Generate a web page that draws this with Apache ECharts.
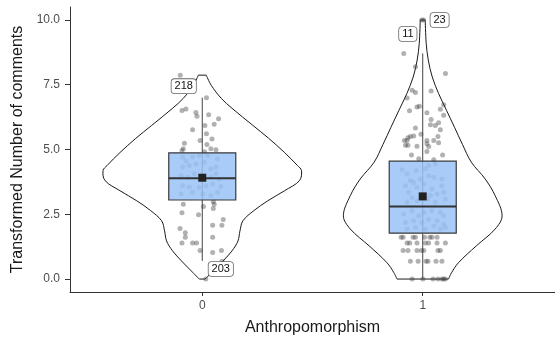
<!DOCTYPE html>
<html>
<head>
<meta charset="utf-8">
<script src="https://cdn.jsdelivr.net/npm/echarts@6/dist/echarts.min.js"></script>
<style>
  html, body { margin: 0; padding: 0; background: #fff; }
  #chart { width: 555px; height: 344px; }
</style>
</head>
<body>
<div id="chart"></div>
<script>
// Groups on the x axis
const categories = ['0', '1'];
const yTicks = [0, 2.5, 5, 7.5, 10];

// Violin outlines: density profile (relative) at each level of the transformed count
const violinLevels0 = [0, 0.31, 0.70, 1.09, 1.47, 1.86, 2.25, 2.64, 3.02, 3.41, 3.80, 4.19, 4.38, 4.88, 5.43, 5.93, 6.59, 6.98, 7.48, 7.87];
const violinDensity0 = [0.03, 0.11, 0.21, 0.30, 0.36, 0.38, 0.41, 0.52, 0.66, 0.83, 0.98, 1.00, 0.96, 0.83, 0.67, 0.51, 0.30, 0.19, 0.09, 0.04];
const violinLevels1 = [0, 0.24, 0.63, 1.28, 1.93, 2.44, 3.22, 3.86, 4.51, 5.20, 5.86, 6.51, 7.16, 7.80, 8.45, 9.10, 10.0];
const violinDensity1 = [0.26, 0.29, 0.36, 0.54, 0.73, 0.80, 0.73, 0.63, 0.49, 0.40, 0.32, 0.24, 0.16, 0.096, 0.056, 0.035, 0.025];

// Box statistics per group
const boxLow = [0.70, 0.00];
const boxQ1 = [3.05, 1.77];
const boxMedian = [3.89, 2.80];
const boxQ3 = [4.87, 4.55];
const boxHigh = [7.00, 8.71];
const groupMean = [3.91, 3.19];

// Jittered observations: [horizontal jitter, value]
const points0 = [
  [0.019, 7.00], [-0.092, 6.51], [-0.074, 6.56], [-0.029, 6.43], [-0.024, 6.28], [0.029, 6.34],
  [0.074, 6.19], [0.054, 5.97], [0.012, 5.93], [-0.044, 5.76], [0.019, 5.61], [0.044, 5.41],
  [-0.010, 5.35], [-0.081, 5.24], [0.021, 5.19], [0.039, 5.03], [-0.086, 5.03], [-0.092, 4.96],
  [0.062, 4.99], [0.010, 4.91],
  [-0.089, 4.71], [-0.074, 4.57], [-0.044, 4.71], [-0.014, 4.77], [0.024, 4.77], [0.069, 4.64],
  [-0.089, 4.32], [-0.059, 4.38], [-0.029, 4.44], [0.009, 4.51], [0.039, 4.25], [0.062, 4.32],
  [-0.096, 3.99], [-0.066, 3.93], [-0.036, 4.06], [0.039, 3.93], [0.062, 4.06], [0.077, 3.86],
  [-0.089, 3.60], [-0.059, 3.54], [-0.014, 3.54], [0.017, 3.60], [0.047, 3.67], [0.084, 3.57],
  [-0.096, 3.28], [-0.044, 3.35], [0.002, 3.28], [0.039, 3.22], [0.069, 3.35],
  [-0.086, 2.89], [0.005, 2.80], [0.050, 2.98], [0.054, 2.89], [0.050, 2.72], [-0.092, 2.56],
  [-0.017, 2.48], [0.095, 2.30], [0.089, 2.08], [0.047, 2.08], [-0.101, 1.95], [-0.077, 1.79],
  [-0.077, 1.61], [0.047, 1.61], [-0.092, 1.39], [-0.044, 1.39], [-0.026, 1.39], [-0.010, 1.10],
  [0.087, 1.10], [0.047, 1.02], [0.090, 0.69]
];
const points1 = [
  [-0.086, 8.71], [-0.033, 8.19], [0.103, 7.93], [-0.048, 7.29], [-0.033, 7.20], [0.038, 7.26],
  [-0.071, 6.99], [0.095, 6.73], [-0.026, 6.64], [-0.015, 6.67], [-0.060, 6.50], [0.080, 6.55],
  [0.019, 6.42], [0.095, 6.32], [0.038, 6.16], [0.072, 6.03], [0.057, 5.93], [0.035, 5.96],
  [-0.033, 5.83], [0.080, 5.76], [-0.008, 5.59], [-0.056, 5.50], [-0.067, 5.45], [-0.041, 5.52],
  [-0.083, 5.35], [-0.071, 5.35], [0.069, 5.50], [0.050, 5.35], [0.019, 5.35], [-0.078, 5.16],
  [-0.067, 5.16], [-0.026, 5.13], [0.019, 5.22], [0.027, 5.12], [0.072, 5.26], [0.019, 4.92],
  [-0.051, 4.79], [0.090, 4.79], [-0.018, 4.64], [0.050, 4.60],
  [-0.094, 4.22], [-0.071, 4.06], [-0.029, 4.19], [0.012, 4.25], [0.027, 4.38], [0.057, 4.44],
  [-0.056, 3.80], [-0.041, 3.73], [-0.011, 3.86], [0.027, 3.99], [0.050, 3.93], [0.087, 3.86],
  [-0.078, 3.60], [-0.026, 3.54], [0.005, 3.67], [0.042, 3.48], [0.087, 3.60],
  [-0.063, 3.35], [-0.048, 3.15], [0.035, 3.22], [0.065, 3.28], [0.095, 3.35],
  [-0.071, 2.96], [-0.026, 3.02], [0.020, 3.09], [0.057, 2.96], [0.103, 3.09],
  [-0.086, 2.51], [-0.048, 2.64], [-0.018, 2.44], [0.005, 2.57], [0.042, 2.64], [0.080, 2.57], [0.095, 2.44],
  [-0.078, 2.18], [-0.041, 2.25], [-0.003, 2.18], [0.027, 2.31], [0.065, 2.25], [0.095, 2.12],
  [-0.071, 1.93], [-0.033, 1.99], [0.012, 1.93], [0.050, 2.05], [0.080, 1.93], [0.103, 1.99],
  [-0.098, 1.61], [-0.089, 1.61], [-0.044, 1.61], [-0.033, 1.61], [0.008, 1.61], [0.032, 1.61], [0.042, 1.61], [0.065, 1.61],
  [-0.071, 1.39], [-0.059, 1.39], [-0.026, 1.39], [0.012, 1.39], [0.027, 1.39], [0.065, 1.39], [0.103, 1.39],
  [-0.089, 1.10], [-0.067, 1.10], [-0.026, 1.10], [-0.006, 1.10], [0.005, 1.10], [0.069, 1.10], [0.080, 1.10],
  [-0.056, 0.69], [-0.021, 0.69], [0.015, 0.69], [0.024, 0.69], [0.060, 0.69], [0.087, 0.69],
  [-0.048, 0], [0.001, 0], [0.047, 0], [0.069, 0], [0.087, 0], [0.095, 0], [0.103, 0]
];

// Labelled extreme observations
const outlierId = ['218', '203', '11', '23'];
const outlierGroup = [0, 0, 1, 1];
const outlierJitter = [-0.100, 0.016, -0.004, 0.004];
const outlierValue = [7.87, 0, 10, 10];

const FONT = '"Liberation Sans", Arial, Helvetica, sans-serif';
const HALF_WIDTH = 0.45;   // widest violin half-width in x units
const BOX_HALF = 0.152;    // box half-width in x units

const violins = [
  { levels: violinLevels0, density: violinDensity0 },
  { levels: violinLevels1, density: violinDensity1 }
];
const maxDensity = Math.max(...violinDensity0, ...violinDensity1);

const scatterData = [];
[points0, points1].forEach((pts, g) => {
  pts.forEach(p => scatterData.push([g + p[0], p[1]]));
});
outlierId.forEach((id, i) => scatterData.push([outlierGroup[i] + outlierJitter[i], outlierValue[i]]));

// Pixel placement of each label box relative to its observation
const labelShift = { '218': [3.5, 11], '203': [15, -10], '11': [-14, 14], '23': [16, 0] };

const chart = echarts.init(document.getElementById('chart'), null, { renderer: 'canvas' });

chart.setOption({
  animation: false,
  backgroundColor: '#fff',
  textStyle: { fontFamily: FONT },
  grid: { left: 70, top: 7, width: 487, height: 285, containLabel: false },
  xAxis: {
    type: 'value', min: -0.6, max: 1.6,
    splitLine: { show: false },
    axisLine: { show: true, onZero: false, lineStyle: { color: '#333', width: 1 } },
    axisTick: { show: true, customValues: [0, 1], length: 4, lineStyle: { color: '#333' } },
    axisLabel: { customValues: [0, 1], formatter: v => categories[Math.round(v)], color: '#4d4d4d', fontSize: 12, margin: 8 },
    name: 'Anthropomorphism', nameLocation: 'middle', nameGap: 28,
    nameTextStyle: { fontSize: 16, color: '#1a1a1a', fontFamily: FONT }
  },
  yAxis: {
    type: 'value', min: -0.5, max: 10.5,
    splitLine: { show: false },
    axisLine: { show: true, onZero: false, lineStyle: { color: '#333', width: 1 } },
    axisTick: { show: true, customValues: yTicks, length: 5, lineStyle: { color: '#333' } },
    axisLabel: { customValues: yTicks, formatter: v => v.toFixed(1), color: '#4d4d4d', fontSize: 12, margin: 10 },
    name: 'Transformed Number of comments', nameLocation: 'middle', nameGap: 42,
    nameTextStyle: { fontSize: 16, color: '#1a1a1a', fontFamily: FONT }
  },
  series: [
    {
      // violin outlines
      type: 'custom', silent: true, clip: false, z: 1,
      data: [[0], [1]],
      renderItem: (params, api) => {
        const g = api.value(0);
        const v = violins[g];
        const right = v.levels.map((y, i) => api.coord([g + v.density[i] / maxDensity * HALF_WIDTH, y]));
        const left = v.levels.map((y, i) => api.coord([g - v.density[i] / maxDensity * HALF_WIDTH, y]));
        const n = right.length;
        const st = { stroke: '#1a1a1a', lineWidth: 1, fill: null };
        return {
          type: 'group',
          children: [
            { type: 'polyline', shape: { points: right, smooth: 0.35 }, style: st },
            { type: 'polyline', shape: { points: left, smooth: 0.35 }, style: st },
            { type: 'line', shape: { x1: left[0][0], y1: left[0][1], x2: right[0][0], y2: right[0][1] }, style: st },
            { type: 'line', shape: { x1: left[n - 1][0], y1: left[n - 1][1], x2: right[n - 1][0], y2: right[n - 1][1] }, style: st }
          ]
        };
      }
    },
    {
      // jittered observations
      type: 'scatter', silent: true, z: 2,
      symbol: 'circle', symbolSize: 5,
      itemStyle: { color: 'rgba(60,60,60,0.5)' },
      data: scatterData
    },
    {
      // box plots with mean marker
      type: 'custom', silent: true, z: 3,
      data: [[0], [1]],
      renderItem: (params, api) => {
        const g = api.value(0);
        const lo = api.coord([g, boxLow[g]]);
        const hi = api.coord([g, boxHigh[g]]);
        const tl = api.coord([g - BOX_HALF, boxQ3[g]]);
        const br = api.coord([g + BOX_HALF, boxQ1[g]]);
        const md = api.coord([g, boxMedian[g]]);
        const mn = api.coord([g, groupMean[g]]);
        return {
          type: 'group',
          children: [
            { type: 'line', shape: { x1: lo[0], y1: lo[1], x2: hi[0], y2: hi[1] }, style: { stroke: '#444', lineWidth: 1 } },
            { type: 'rect', shape: { x: tl[0], y: tl[1], width: br[0] - tl[0], height: br[1] - tl[1] },
              style: { fill: 'rgba(152,193,245,0.84)', stroke: '#3a3a3a', lineWidth: 1.2 } },
            { type: 'line', shape: { x1: tl[0], y1: md[1], x2: br[0], y2: md[1] }, style: { stroke: '#333', lineWidth: 2 } },
            { type: 'rect', shape: { x: mn[0] - 4, y: mn[1] - 4, width: 8, height: 8 }, style: { fill: '#222' } }
          ]
        };
      }
    },
    {
      // labels of extreme observations
      type: 'custom', silent: true, clip: false, z: 4,
      data: outlierId.map((id, i) => [outlierGroup[i] + outlierJitter[i], outlierValue[i], i]),
      renderItem: (params, api) => {
        const i = api.value(2);
        const p = api.coord([api.value(0), api.value(1)]);
        const s = labelShift[outlierId[i]];
        return {
          type: 'text',
          style: {
            text: outlierId[i], x: p[0] + s[0], y: p[1] + s[1],
            align: 'center', verticalAlign: 'middle',
            font: '11px ' + FONT, fill: '#111',
            backgroundColor: '#fff', borderColor: '#666', borderWidth: 0.8, borderRadius: 3,
            padding: [2, 3, 1, 3]
          }
        };
      }
    }
  ]
});
</script>
</body>
</html>
